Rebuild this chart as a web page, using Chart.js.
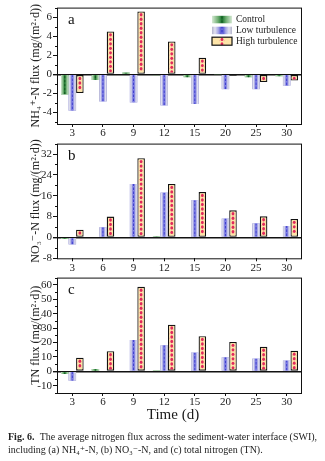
<!DOCTYPE html>
<html>
<head>
<meta charset="utf-8">
<script src="https://cdn.jsdelivr.net/npm/chart.js@4.4.1/dist/chart.umd.min.js"></script>
<style>
  html, body { margin: 0; padding: 0; background: #fff; }
  #wrap { position: relative; width: 325px; height: 461px; overflow: hidden; font-family: 'Liberation Serif', 'DejaVu Serif', serif; color: #1a1a1a; }
  canvas { position: absolute; left: 0; }
  #xtitle { position: absolute; left: 0; width: 346px; top: 406px; text-align: center; font-size: 15px; }
  #caption { position: absolute; left: 8px; top: 430px; width: 320px; font-size: 10px; line-height: 13.4px; white-space: nowrap; color: #222; }
  #caption b { font-weight: bold; margin-right: 3px; }
</style>
</head>
<body>
<div id="wrap">
  <canvas id="chartA" width="325" height="150" style="top:0px"></canvas>
  <canvas id="chartB" width="325" height="150" style="top:136px"></canvas>
  <canvas id="chartC" width="325" height="150" style="top:270px"></canvas>
  <div id="xtitle">Time (d)</div>
  <div id="caption"><b>Fig. 6.</b> The average nitrogen flux across the sediment-water interface (SWI),<br>including (a) NH₄⁺-N, (b) NO₃⁻-N, and (c) total nitrogen (TN).</div>
</div>
<script>
// --- Data ---
const days = ['3', '6', '9', '12', '15', '20', '25', '30'];
const seriesNames = ['Control', 'Low turbulence', 'High turbulence'];

const nh4Control = [-2.1, -0.6, 0.2, -0.1, -0.3, -0.05, -0.3, -0.2];
const nh4Low = [-3.8, -2.85, -2.95, -3.25, -3.1, -1.55, -1.55, -1.2];
const nh4High = [-1.95, 4.5, 6.6, 3.45, 1.75, -0.15, -0.8, -0.65];

const no3Control = [-0.6, 0, 0, 0.5, 0, 0, 0, 0];
const no3Low = [-2.7, 3.9, 20.5, 17.2, 14.3, 7.3, 5.4, 4.4];
const no3High = [3.0, 8.0, 30.4, 20.5, 17.4, 10.4, 8.1, 7.1];

const tnControl = [-1.8, 1.6, 0, 0.8, 0, 0, 0, 0];
const tnLow = [-6.5, 0, 21.7, 18.1, 13.0, 9.8, 8.9, 7.6];
const tnHigh = [9.4, 13.9, 58.6, 32.4, 24.4, 20.4, 17.0, 14.3];

const nh4Ticks = [-4, -2, 0, 2, 4, 6];
const no3Ticks = [-8, 0, 8, 16, 24, 32];
const tnTicks = [-10, 0, 10, 20, 30, 40, 50, 60];

const SERIF = "'Liberation Serif', 'DejaVu Serif', serif";

// --- Bar skins (striped fills like the original plotting software) ---
function paintSkin(ctx, skin, left, top, w, h) {
    if (h < 0.5 || w < 1) return;
    const cx = left + w / 2;
    ctx.save();
    ctx.beginPath();
    ctx.rect(left, top, w, h);
    ctx.clip();
    if (skin === 'control') {
        const g = ctx.createLinearGradient(left, 0, left + w, 0);
        g.addColorStop(0, '#d6e9d4');
        g.addColorStop(0.3, '#6fae72');
        g.addColorStop(0.5, '#16702a');
        g.addColorStop(0.7, '#6fae72');
        g.addColorStop(1, '#d6e9d4');
        ctx.fillStyle = g;
        ctx.fillRect(left, top, w, h);
        ctx.fillStyle = 'rgba(10,70,20,0.6)';
        for (let yy = top + 1; yy < top + h; yy += 4) ctx.fillRect(cx - 0.6, yy, 1.2, 2);
    } else if (skin === 'low') {
        const g = ctx.createLinearGradient(left, 0, left + w, 0);
        g.addColorStop(0, '#b4b4cc');
        g.addColorStop(0.15, '#e2e2f0');
        g.addColorStop(0.32, '#a4a4e6');
        g.addColorStop(0.5, '#3c3cd0');
        g.addColorStop(0.68, '#a4a4e6');
        g.addColorStop(0.85, '#e2e2f0');
        g.addColorStop(1, '#b4b4cc');
        ctx.fillStyle = g;
        ctx.fillRect(left, top, w, h);
        ctx.fillStyle = 'rgba(200,200,255,0.55)';
        for (let yy = top + 2; yy < top + h; yy += 4) ctx.fillRect(cx - 0.5, yy, 1, 1.5);
    } else {
        ctx.fillStyle = '#fde4a8';
        ctx.fillRect(left, top, w, h);
        // faint cross lattice
        ctx.fillStyle = 'rgba(240,140,150,0.55)';
        for (let yy = top + 3; yy < top + h; yy += 4.5) {
            ctx.fillRect(cx - 2.8, yy, 1, 1);
            ctx.fillRect(cx + 1.8, yy, 1, 1);
        }
        // red dot chain down the middle
        ctx.fillStyle = '#e2275c';
        for (let yy = top + 2.2; yy < top + h - 0.5; yy += 4.5) {
            ctx.beginPath();
            ctx.ellipse(cx, yy, 1.4, 1.7, 0, 0, Math.PI * 2);
            ctx.fill();
        }
    }
    ctx.restore();
}

const barSkinPlugin = {
    id: 'barSkin',
    afterDatasetDraw(chart, args) {
        const ds = chart.data.datasets[args.index];
        const ctx = chart.ctx;
        args.meta.data.forEach(el => {
            const p = el.getProps(['x', 'y', 'base', 'width'], true);
            const inset = ds.skin === 'high' ? 1.2 : 0;
            const top = Math.min(p.y, p.base) + inset;
            const h = Math.abs(p.base - p.y) - inset * 2;
            paintSkin(ctx, ds.skin, p.x - p.width / 2 + inset, top, p.width - inset * 2, h);
        });
    }
};

// frame around the plot, minor ticks, y title and the panel letter
const framePlugin = {
    id: 'frame',
    afterDraw(chart, args, opts) {
        const {ctx, chartArea: a} = chart;
        const y = chart.scales.y;
        ctx.save();
        ctx.strokeStyle = '#111';
        ctx.lineWidth = 1;
        ctx.strokeRect(a.left + 0.5, a.top + 0.5, a.right - a.left - 1, a.bottom - a.top);
        // minor ticks halfway between the major ones
        const t = opts.ticks;
        const step = t[1] - t[0];
        ctx.beginPath();
        for (let v = t[0] - step / 2; v <= y.max; v += step) {
            if (v < y.min) continue;
            const py = Math.round(y.getPixelForValue(v)) + 0.5;
            ctx.moveTo(a.left - 2, py);
            ctx.lineTo(a.left, py);
        }
        ctx.stroke();
        ctx.fillStyle = '#111';
        ctx.font = '15px ' + SERIF;
        ctx.textBaseline = 'middle';
        ctx.fillText(opts.letter, a.left + 11, a.top + 12);
        // rotated axis title
        ctx.translate(36, (a.top + a.bottom) / 2);
        ctx.rotate(-Math.PI / 2);
        ctx.textAlign = 'center';
        ctx.fillStyle = '#222';
        ctx.font = '12px ' + SERIF;
        ctx.fillText(opts.title, 0, 0);
        ctx.restore();
    }
};

// legend drawn inside panel a, top right
const insideLegend = {
    id: 'insideLegend',
    afterDraw(chart, args, opts) {
        if (!opts.show) return;
        const ctx = chart.ctx;
        const a = chart.chartArea;
        ctx.save();
        ctx.font = '9.5px ' + SERIF;
        ctx.textBaseline = 'middle';
        chart.data.datasets.forEach((ds, i) => {
            const cy = a.top + 12 + i * 10.8;
            const sx = a.right - 90;
            paintSkin(ctx, ds.skin, sx, cy - 4, 20, 8);
            if (ds.skin === 'high') {
                ctx.strokeStyle = '#111';
                ctx.lineWidth = 1.2;
                ctx.strokeRect(sx, cy - 4, 20, 8);
            }
            ctx.fillStyle = '#222';
            ctx.fillText(ds.label, sx + 24, cy);
        });
        ctx.restore();
    }
};

function buildPanel(id, letter, yTitle, control, low, high, ticks, yMin, yMax, padTop, chartBottom, showLegend) {
    const H = 150;
    return new Chart(document.getElementById(id), {
        type: 'bar',
        data: {
            labels: days,
            datasets: [
                { label: seriesNames[0], skin: 'control', data: control, backgroundColor: '#6fae72', borderWidth: 0 },
                { label: seriesNames[1], skin: 'low', data: low, backgroundColor: '#a4a4e6', borderWidth: 0 },
                { label: seriesNames[2], skin: 'high', data: high, backgroundColor: '#fde4a8',
                  borderColor: '#111', borderWidth: 1.3, borderSkipped: false }
            ]
        },
        options: {
            responsive: false,
            animation: false,
            events: [],
            layout: { padding: { top: padTop, right: 23, left: 0, bottom: 0 } },
            datasets: { bar: { categoryPercentage: 0.74, barPercentage: 1.0 } },
            plugins: {
                legend: { display: false },
                tooltip: { enabled: false },
                frame: { letter: letter, ticks: ticks, title: yTitle },
                insideLegend: { show: showLegend }
            },
            scales: {
                x: {
                    grid: { display: true, drawOnChartArea: false, offset: false, tickLength: 3, tickColor: '#111', color: '#111' },
                    border: { display: false },
                    ticks: { color: '#222', font: { family: SERIF, size: 11 }, padding: 0, maxRotation: 0 },
                    afterFit: s => { s.height = H - chartBottom; }
                },
                y: {
                    min: yMin,
                    max: yMax,
                    afterBuildTicks: s => { s.ticks = ticks.map(v => ({ value: v })); },
                    afterFit: s => { s.width = 57; },
                    grid: {
                        color: c => (c.tick && c.tick.value === 0) ? '#111' : 'rgba(0,0,0,0)',
                        lineWidth: c => (c.tick && c.tick.value === 0) ? 1.4 : 1,
                        tickColor: '#111',
                        tickLength: 4
                    },
                    border: { display: false },
                    ticks: { color: '#222', font: { family: SERIF, size: 11 }, padding: 1 }
                }
            }
        },
        plugins: [barSkinPlugin, framePlugin, insideLegend]
    });
}

buildPanel('chartA', 'a', 'NH₄⁺-N flux (mg/(m²·d))', nh4Control, nh4Low, nh4High, nh4Ticks, -5.2, 7, 3, 124, true);
buildPanel('chartB', 'b', 'NO₃⁻-N flux (mg/(m²·d))', no3Control, no3Low, no3High, no3Ticks, -8, 36, 3.3, 122.3, false);
buildPanel('chartC', 'c', 'TN flux (mg/(m²·d))', tnControl, tnLow, tnHigh, tnTicks, -15, 65, 4, 123, false);
</script>
</body>
</html>
